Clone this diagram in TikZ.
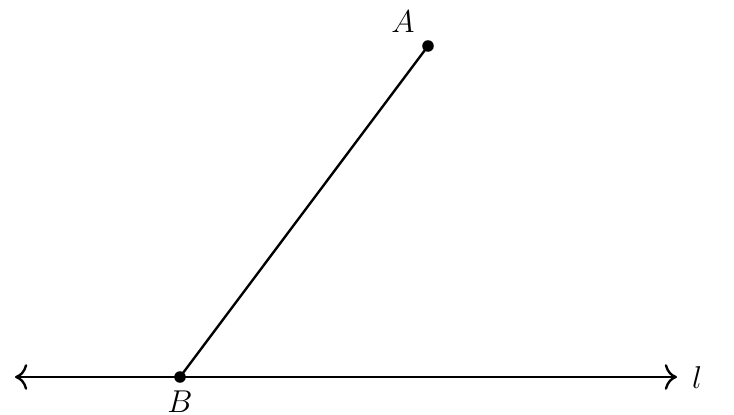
\documentclass[tikz,border=0pt]{standalone}
\usetikzlibrary{arrows.meta}
\begin{document}
\begin{tikzpicture}[x=0.38pt,y=-0.38pt,
  ln/.style={line width=0.9pt},
  pt/.style={circle,fill=black,inner sep=0pt,minimum size=4.4pt},
  lbl/.style={inner sep=0pt,font=\fontsize{12}{14}\selectfont}]
\useasboundingbox (0,0) rectangle (734,415);
\coordinate (L) at (15,377);
\coordinate (R) at (677,377);
\node[pt] (B) at (180,377) {};
\node[pt] (A) at (428,46) {};
\draw[ln,{Computer Modern Rightarrow[scale=1.3]}-{Computer Modern Rightarrow[scale=1.3]}] (L) -- (R);
\draw[ln] (B.center) -- (A.center);
\node[lbl] (la) at (403,22) {$A$};
\node[lbl] (lb) at (180,402) {$B$};
\node[lbl] (ll) at (697,378) {$l$};
\end{tikzpicture}
\end{document}
